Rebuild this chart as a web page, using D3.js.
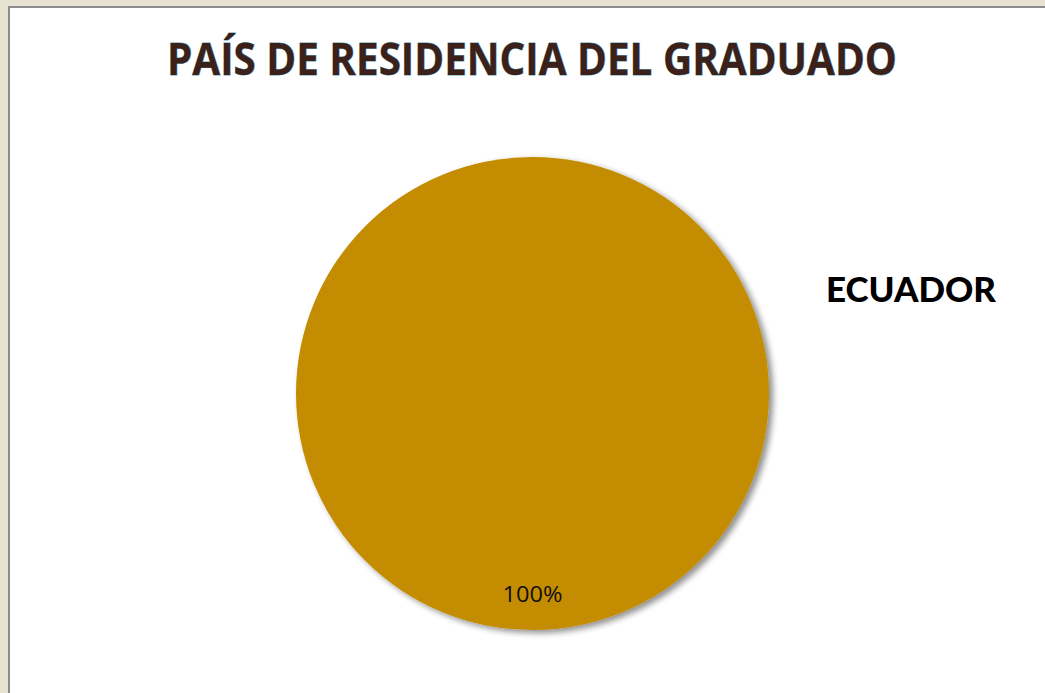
<!DOCTYPE html>
<html>
<head>
<meta charset="utf-8">
<script src="https://cdn.jsdelivr.net/npm/d3@7"></script>
<style>
  body { margin: 0; background: #e6e0cf; }
  #chart { width: 1045px; height: 693px; }
</style>
</head>
<body>
<div id="chart"></div>
<script>
var countries = ["ECUADOR"];
var values = [100];
var colors = ["#c48c00"];
var chartTitle = "PAÍS DE RESIDENCIA DEL GRADUADO";

(function() {
  var width = 1045,
    height = 693;

  var svg = d3.select("#chart")
    .append("svg")
    .attr("width", width)
    .attr("height", height);

  // beige window texture + grey frame, then white chart area
  svg.append("rect")
    .attr("width", width)
    .attr("height", height)
    .attr("fill", "#e8e2d2");

  svg.append("rect")
    .attr("x", 8)
    .attr("y", 6)
    .attr("width", width)
    .attr("height", height)
    .attr("fill", "#8c8c8c");

  svg.append("rect")
    .attr("x", 10)
    .attr("y", 8)
    .attr("width", width)
    .attr("height", height)
    .attr("fill", "#ffffff");

  var defs = svg.append("defs");
  var filter = defs.append("filter")
    .attr("id", "shadow")
    .attr("x", "-10%").attr("y", "-10%")
    .attr("width", "130%").attr("height", "130%");
  filter.append("feGaussianBlur")
    .attr("in", "SourceAlpha")
    .attr("stdDeviation", 3);
  filter.append("feOffset")
    .attr("dx", 4)
    .attr("dy", 3)
    .attr("result", "blur");
  filter.append("feComponentTransfer")
    .append("feFuncA").attr("type", "linear").attr("slope", 0.45);
  var merge = filter.append("feMerge");
  merge.append("feMergeNode");
  merge.append("feMergeNode").attr("in", "SourceGraphic");

  // title
  svg.append("text")
    .attr("x", 532)
    .attr("y", 75)
    .attr("text-anchor", "middle")
    .attr("font-family", "'Open Sans', sans-serif")
    .attr("font-weight", "bold")
    .attr("font-size", 45)
    .attr("textLength", 730)
    .attr("lengthAdjust", "spacingAndGlyphs")
    .attr("fill", "#3b2119")
    .attr("stroke", "#5aa3b5")
    .attr("stroke-width", 0.8)
    .attr("paint-order", "stroke")
    .text(chartTitle);

  var cx = 532.5, cy = 393.5, radius = 236.5;

  var pie = d3.pie().sort(null).value(function(d) { return d; });
  var arc = d3.arc().innerRadius(0).outerRadius(radius);
  var color = d3.scaleOrdinal().domain(countries).range(colors);

  var total = d3.sum(values);
  var g = svg.append("g")
    .attr("transform", "translate(" + cx + "," + cy + ")");

  var slices = g.selectAll(".slice")
    .data(pie(values))
    .enter().append("g")
    .attr("class", "slice");

  slices.append("path")
    .attr("d", arc)
    .attr("fill", function(d, i) { return color(countries[i]); })
    .attr("filter", "url(#shadow)");

  // percent label, placed at the slice's mid angle near the rim
  slices.append("text")
    .attr("x", function(d) {
      var a = (d.startAngle + d.endAngle) / 2;
      return Math.sin(a) * radius * 0.85;
    })
    .attr("y", function(d) {
      var a = (d.startAngle + d.endAngle) / 2;
      return -Math.cos(a) * radius * 0.85 + 7;
    })
    .attr("text-anchor", "middle")
    .attr("font-family", "'Open Sans', sans-serif")
    .attr("font-size", 22)
    .attr("textLength", 60)
    .attr("lengthAdjust", "spacingAndGlyphs")
    .attr("fill", "#111")
    .text(function(d) { return d3.format(".0%")(d.value / total); });

  // legend
  svg.selectAll(".legend")
    .data(countries)
    .enter().append("text")
    .attr("class", "legend")
    .attr("x", 826)
    .attr("y", 302)
    .attr("font-family", "Lato, sans-serif")
    .attr("font-weight", 900)
    .attr("font-size", 34)
    .attr("textLength", 170)
    .attr("lengthAdjust", "spacingAndGlyphs")
    .attr("fill", "#000")
    .text(function(d) { return d; });
})();
</script>
</body>
</html>
